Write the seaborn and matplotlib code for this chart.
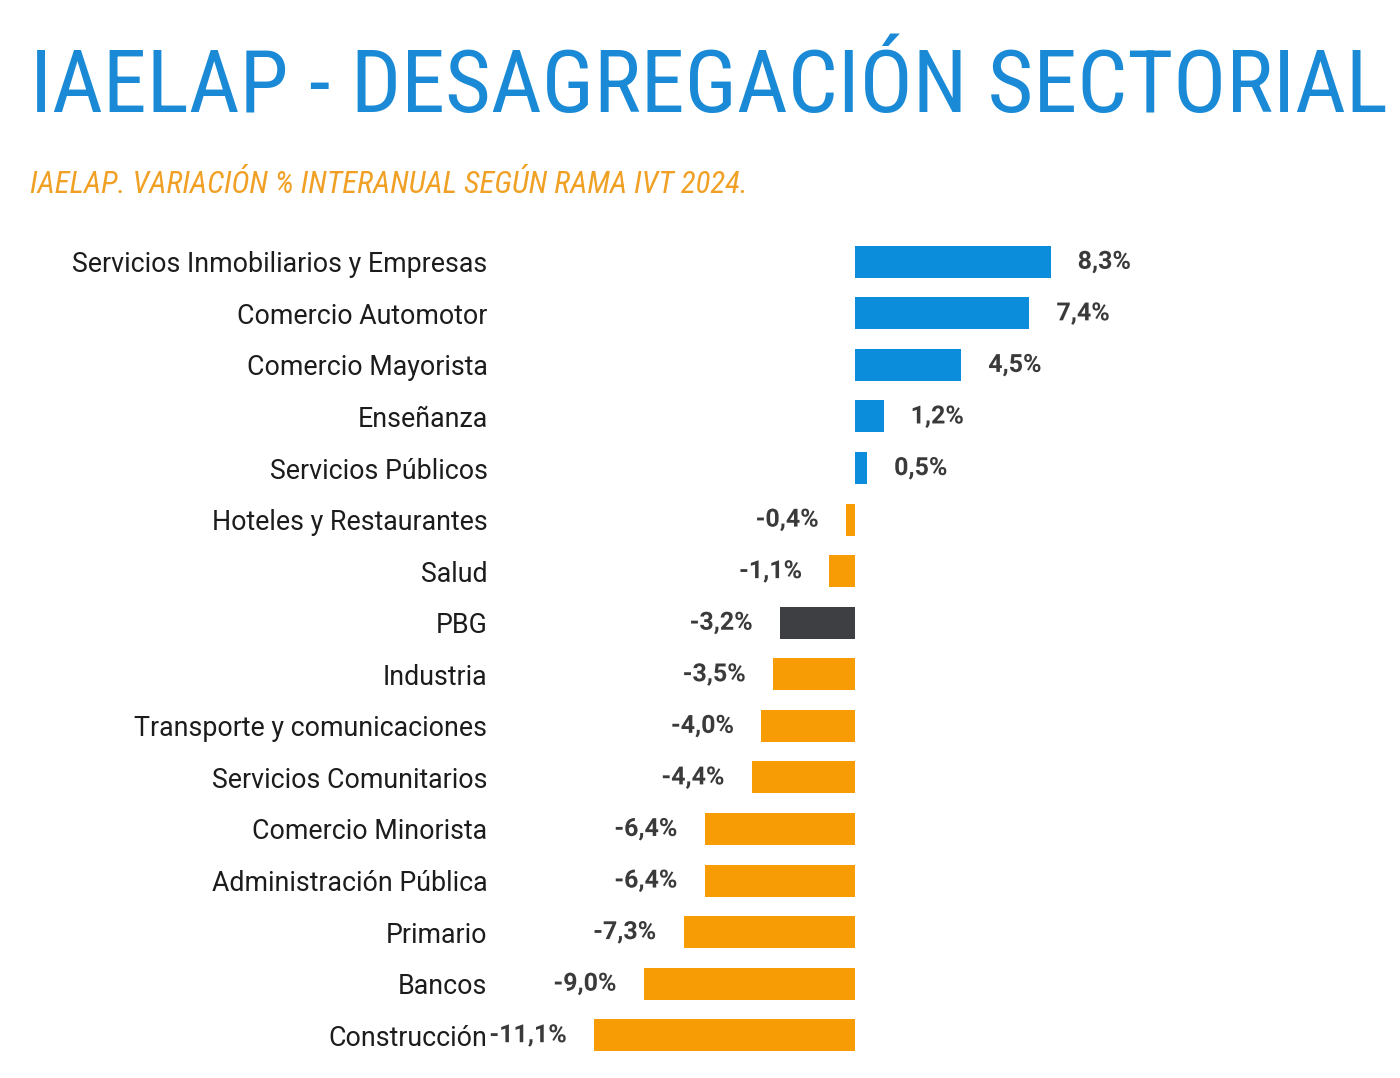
import matplotlib
matplotlib.use('Agg')
import matplotlib.pyplot as plt
import matplotlib.patheffects as pe
from matplotlib import font_manager
import seaborn as sns
import pandas as pd

categories = ['Servicios Inmobiliarios y Empresas', 'Comercio Automotor', 'Comercio Mayorista',
              'Enseñanza', 'Servicios Públicos', 'Hoteles y Restaurantes', 'Salud', 'PBG',
              'Industria', 'Transporte y comunicaciones', 'Servicios Comunitarios',
              'Comercio Minorista', 'Administración Pública', 'Primario', 'Bancos', 'Construcción']
values = [8.3, 7.4, 4.5, 1.2, 0.5, -0.4, -1.1, -3.2, -3.5, -4.0, -4.4, -6.4, -6.4, -7.3, -9.0, -11.1]
labels = ['8,3%', '7,4%', '4,5%', '1,2%', '0,5%', '-0,4%', '-1,1%', '-3,2%', '-3,5%', '-4,0%',
          '-4,4%', '-6,4%', '-6,4%', '-7,3%', '-9,0%', '-11,1%']

BLUE = '#0b8ddb'
ORANGE = '#f89c05'
DARK = '#3e3f42'

df = pd.DataFrame({'cat': categories, 'val': values})
colors = [DARK if c == 'PBG' else (BLUE if v > 0 else ORANGE) for c, v in zip(categories, values)]

sns.set_style('white')
plt.rcParams['font.family'] = ['Roboto', 'DejaVu Sans']

# narrow face for the headings if one is installed
installed = {f.name for f in font_manager.fontManager.ttflist}
narrow = None
for cand in ['Roboto Condensed', 'Liberation Sans Narrow', 'DejaVu Sans Condensed']:
    if cand in installed:
        narrow = cand
        break
head = [narrow, 'DejaVu Sans'] if narrow else ['Roboto', 'DejaVu Sans']

fig = plt.figure(figsize=(14, 10.78), dpi=100)
ax = fig.add_axes([500 / 1400, 17 / 1078, 800 / 1400, 825 / 1078])

sns.barplot(data=df, y='cat', x='val', hue='cat', palette=colors, legend=False,
            width=0.62, ax=ax, edgecolor='none', orient='h', saturation=1)
ax.set_xlim(-15.1, 18.9)
ax.set_ylim(15.5, -0.5)
ax.set_xlabel('')
ax.set_ylabel('')
ax.set_xticks([])
for s in ax.spines.values():
    s.set_visible(False)
ax.tick_params(axis='y', length=0, pad=9, labelsize=19.3, labelcolor='#1c1c1c')

stroke = [pe.withStroke(linewidth=3.5, foreground='white')]
for i, (v, lab) in enumerate(zip(values, labels)):
    off = 1.15
    if v >= 0:
        ax.text(v + off, i, lab, ha='left', va='center', fontsize=18, fontweight='bold',
                color='#3a3a3a', path_effects=stroke)
    else:
        ax.text(v - off, i, lab, ha='right', va='center', fontsize=18, fontweight='bold',
                color='#3a3a3a', path_effects=stroke)

title = fig.text(30 / 1400, 1 - 112 / 1078, 'IAELAP - DESAGREGACIÓN SECTORIAL',
                 family=head, fontsize=70, color='#1a8ad6', ha='left', va='baseline')
sub = fig.text(30 / 1400, 1 - 193 / 1078, 'IAELAP. VARIACIÓN % INTERANUAL SEGÚN RAMA IVT 2024.',
               family=head, fontsize=24, style='italic', color='#f0a024',
               ha='left', va='baseline')

# fit heading widths to the reference spans
fig.canvas.draw()
r = fig.canvas.get_renderer()
for t, w in [(title, 1360), (sub, 718)]:
    bw = t.get_window_extent(r).width
    t.set_fontsize(t.get_fontsize() * w / bw)

fig.savefig('out.png', dpi=100, facecolor='white')
